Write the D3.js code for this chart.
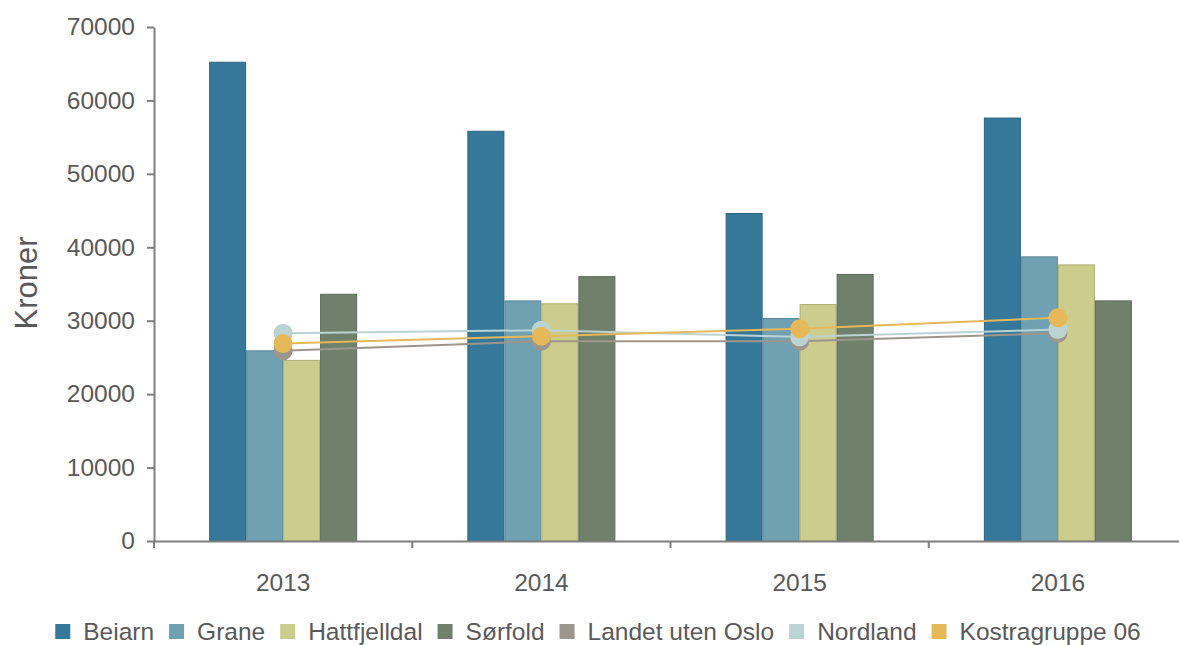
<!DOCTYPE html>
<html>
<head>
<meta charset="utf-8">
<script src="https://d3js.org/d3.v7.min.js"></script>
<style>
  body { margin: 0; background: #fff; }
  svg { font-family: "Liberation Sans", Arial, sans-serif; }
  .axis text { fill: #595959; font-size: 24.5px; }
  .axis path, .axis line { stroke: #7f7f7f; stroke-width: 2px; }
</style>
</head>
<body>
<svg id="chart" width="1179" height="645"></svg>
<script>
// data
var years = ["2013", "2014", "2015", "2016"];
var barNames = ["Beiarn", "Grane", "Hattfjelldal", "Sørfold"];
var beiarn = [65200, 55800, 44600, 57600];
var grane = [25900, 32700, 30300, 38700];
var hattfjelldal = [24600, 32300, 32200, 37600];
var sorfold = [33600, 36000, 36300, 32700];
var lineNames = ["Landet uten Oslo", "Nordland", "Kostragruppe 06"];
var landet = [25900, 27200, 27200, 28300];
var nordland = [28300, 28700, 27800, 28800];
var kostra = [26900, 27900, 28900, 30400];
var yTicks = [0, 10000, 20000, 30000, 40000, 50000, 60000, 70000];

var barSeries = [beiarn, grane, hattfjelldal, sorfold];
var lineSeries = [landet, nordland, kostra];
var barColors = ["#35789a", "#6fa1b3", "#cccc8c", "#6f806b"];
var barStroke = ["#2a6482", "#5a8b9c", "#aeae72", "#5b6b58"];
var lineColors = ["#9d968c", "#bcd3d3", "#e5b95a"];

var svg = d3.select("#chart");
var plotLeft = 154, plotRight = 1187, plotTop = 27, plotBottom = 541;

var x = d3.scaleBand().domain(years).range([plotLeft, plotRight]);
var xInner = d3.scaleBand().domain(barNames).range([0, 148]);
var y = d3.scaleLinear().domain([0, 70000]).range([plotBottom, plotTop]);

// y axis
svg.append("g")
    .attr("class", "axis")
    .attr("transform", "translate(" + plotLeft + ",0)")
    .call(d3.axisLeft(y).tickValues(yTicks).tickFormat(d3.format("d"))
        .tickSize(7).tickPadding(12).tickSizeOuter(0));

svg.append("text")
    .attr("transform", "translate(37," + 283 + ") rotate(-90)")
    .attr("text-anchor", "middle")
    .attr("fill", "#595959")
    .style("font-size", "31px")
    .text("Kroner");

// bars
barSeries.forEach(function(vals, s) {
    svg.append("g").selectAll("rect")
        .data(vals)
        .join("rect")
        .attr("x", function(d, i) { return x(years[i]) + x.bandwidth() / 2 - 74 + xInner(barNames[s]) + 0.5; })
        .attr("y", function(d) { return y(d); })
        .attr("width", xInner.bandwidth() - 1)
        .attr("height", function(d) { return plotBottom - y(d); })
        .attr("fill", barColors[s])
        .attr("stroke", barStroke[s])
        .attr("stroke-width", 1);
});

// x axis (drawn after bars so it sits on top)
var xAxis = svg.append("g")
    .attr("class", "axis")
    .attr("transform", "translate(0," + plotBottom + ")")
    .call(d3.axisBottom(x).tickSize(0).tickPadding(33));

xAxis.selectAll(".boundary")
    .data(years)
    .join("line")
    .attr("class", "boundary")
    .attr("x1", function(d) { return x(d); })
    .attr("x2", function(d) { return x(d); })
    .attr("y1", 0)
    .attr("y2", 7);

// lines with markers
var line = d3.line()
    .x(function(d, i) { return x(years[i]) + x.bandwidth() / 2; })
    .y(function(d) { return y(d); });

lineSeries.forEach(function(vals, s) {
    svg.append("path")
        .attr("d", line(vals))
        .attr("fill", "none")
        .attr("stroke", lineColors[s])
        .attr("stroke-width", 2);
});
lineSeries.forEach(function(vals, s) {
    svg.append("g").selectAll("circle")
        .data(vals)
        .join("circle")
        .attr("cx", function(d, i) { return x(years[i]) + x.bandwidth() / 2; })
        .attr("cy", function(d) { return y(d); })
        .attr("r", 9.5)
        .attr("fill", lineColors[s]);
});

// legend
var legendNames = barNames.concat(lineNames);
var legendColors = barColors.concat(lineColors);
var legend = svg.append("g");
var lx = 0;
legendNames.forEach(function(name, i) {
    var item = legend.append("g").attr("transform", "translate(" + lx + ",0)");
    item.append("rect")
        .attr("x", 0).attr("y", -16)
        .attr("width", 15).attr("height", 15)
        .attr("fill", legendColors[i]);
    var t = item.append("text")
        .attr("x", 28).attr("y", 0)
        .attr("fill", "#595959")
        .style("font-size", "24.5px")
        .text(name);
    lx += 28 + t.node().getComputedTextLength() + 15;
});
lx -= 15;
legend.attr("transform", "translate(" + (598 - lx / 2) + ",640)");
</script>
</body>
</html>
